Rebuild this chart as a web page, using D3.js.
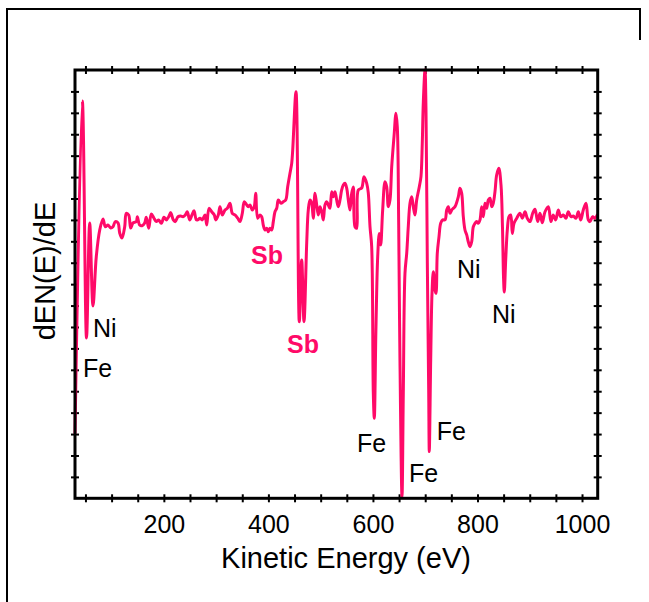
<!DOCTYPE html>
<html>
<head>
<meta charset="utf-8">
<script src="https://cdn.jsdelivr.net/npm/d3@7"></script>
<style>
  html, body { margin: 0; padding: 0; background: #fff; }
  svg { display: block; font-family: "Liberation Sans", Arial, sans-serif; }
</style>
</head>
<body>
<svg id="chart" width="649" height="602"></svg>
<script>
// Auger spectrum: kinetic energy (eV) and derivative signal dEN(E)/dE (arbitrary units)
const energy = [
  30, 44.0, 52.0, 58.1, 64.4, 70.7, 77.3, 83.6,
  88.0, 93.1, 98.3, 102.7, 107.1, 112.3, 115.5, 119.9, 125.1, 128.1, 132.7, 136.6,
  141.0, 147.3, 149.2, 153.8, 158.2, 163.3, 166.4, 171.0, 176.0, 181.1, 185.5, 190.1,
  195.1, 200.3, 204.7, 209.3, 213.1, 218.1, 221.9, 227.0, 232.2, 236.6, 241.0, 244.8,
  249.4, 253.8, 257.7, 262.1, 264.7, 269.1, 273.5, 278.7, 282.0, 286.4, 291.5, 296.5,
  299.2, 304.1, 307.4, 311.8, 317.0, 321.4, 326.5, 330.9, 336.1, 341.3, 345.7, 350.1,
  353.9, 358.5, 361.5, 364.8, 369.2, 373.0, 375.7, 379.5, 383.9, 387.2, 390.2, 393.5,
  396.7, 399.8, 403.1, 406.3, 409.4, 412.6, 415.9, 419.0, 424.1, 428.5, 433.1, 436.9,
  441.3, 444.6, 446.5, 452.8, 459.1, 463.7, 468.1, 473.3, 476.3, 479.6, 482.8, 485.9,
  489.1, 492.4, 495.5, 498.7, 502.0, 505.0, 508.3, 511.5, 514.6, 517.8, 521.1, 524.2,
  527.4, 530.6, 533.7, 537.0, 540.2, 543.3, 546.5, 549.8, 552.9, 556.1, 559.4, 562.4,
  565.7, 568.9, 572.0, 578.5, 582.9, 588.1, 591.1, 594.4, 597.6, 600.7, 602.6, 605.8,
  609.1, 612.1, 614.8, 618.6, 623.1, 626.3, 629.4, 632.6, 635.9, 640.3, 644.1, 646.6,
  649.3, 651.7, 655.6, 658.1, 661.3, 664.6, 667.6, 670.9, 674.1, 677.2, 680.4, 683.7,
  688.7, 691.9, 694.4, 696.3, 699.6, 701.5, 704.0, 706.7, 707.8, 710.5, 713.0, 715.5,
  718.7, 720.6, 723.1, 726.4, 729.6, 733.5, 737.9, 741.1, 744.2, 747.4, 750.7, 753.7,
  757.0, 763.3, 766.5, 769.8, 772.9, 776.1, 779.4, 782.4, 785.7, 788.9, 792.0, 795.2,
  798.5, 801.5, 804.8, 808.0, 811.1, 814.4, 817.6, 820.7, 823.9, 827.2, 830.2, 833.5,
  836.7, 840.8, 845.0, 847.8, 849.8, 851.3, 854.0, 857.1, 860.3, 863.6, 866.6, 869.9,
  875.1, 881.3, 885.8, 890.9, 895.3, 900.5, 905.6, 910.0, 915.2, 919.6, 924.0, 929.2,
  935.5, 940.6, 945.0, 949.6, 954.6, 959.2, 964.2, 969.3, 973.7, 978.9, 983.3, 988.5,
  992.9, 997.5, 1002.4, 1007.6, 1012.0, 1015.2, 1020.4, 1024.8, 1029.2
];
const signal = [
  3.05, 18.55, 7.49, 12.86, 8.98, 11.28, 12.53, 13.04,
  12.68, 12.76, 12.62, 12.68, 12.92, 12.86, 12.39, 12.15, 12.68, 13.31, 13.23, 12.62,
  12.86, 12.92, 13.15, 12.76, 12.73, 12.86, 13.12, 12.61, 13.28, 13.08, 12.92, 13.00,
  12.84, 13.12, 13.00, 13.15, 13.34, 13.00, 12.92, 13.15, 13.18, 13.15, 13.23, 13.38,
  13.00, 13.23, 13.43, 13.00, 13.00, 13.08, 13.00, 13.23, 12.76, 13.54, 13.38, 13.23,
  13.00, 13.23, 13.62, 13.23, 13.46, 13.54, 13.78, 13.31, 13.23, 13.08, 12.92, 13.31,
  13.85, 13.70, 13.62, 13.70, 13.46, 13.62, 14.24, 13.08, 13.23, 13.15, 12.76, 12.53,
  12.61, 12.45, 12.61, 12.53, 12.92, 13.38, 13.54, 13.93, 13.78, 13.85, 13.93, 14.55,
  15.18, 15.64, 16.26, 18.99, 8.25, 11.13, 8.25, 11.92, 13.46, 13.93, 13.79, 13.08,
  14.24, 13.70, 13.23, 13.62, 13.38, 13.00, 13.70, 13.85, 13.70, 13.54, 14.32, 14.08,
  14.32, 13.93, 13.62, 13.93, 14.40, 14.63, 14.71, 14.48, 13.93, 13.46, 14.24, 14.54,
  12.68, 12.61, 14.40, 14.49, 15.02, 14.71, 14.26, 12.68, 11.75, 4.92, 3.74, 8.01,
  11.28, 12.37, 11.83, 13.46, 14.78, 14.55, 13.62, 13.93, 15.48, 16.89, 17.98, 17.35,
  12.68, 6.46, 0.07, 4.92, 10.51, 11.44, 12.68, 13.78, 14.08, 13.62, 13.23, 13.93,
  14.55, 15.02, 16.58, 18.45, 20.00, 18.13, 11.13, 4.92, 2.18, 6.46, 9.57, 10.58,
  9.73, 9.57, 11.44, 12.22, 12.84, 13.00, 13.00, 13.46, 13.62, 13.31, 13.46, 13.54,
  13.62, 14.08, 14.48, 14.24, 13.15, 12.53, 12.30, 11.98, 11.75, 11.98, 12.68, 12.84,
  12.92, 12.84, 13.00, 13.62, 13.15, 13.78, 13.54, 13.93, 14.01, 13.62, 13.78, 14.32,
  15.10, 15.41, 14.63, 12.68, 10.35, 9.63, 11.13, 12.53, 13.15, 13.23, 12.37, 12.84,
  13.08, 13.31, 13.08, 13.38, 13.08, 12.92, 13.31, 13.50, 12.92, 13.31, 12.87, 13.38,
  13.62, 12.92, 13.23, 13.00, 13.46, 13.15, 13.23, 13.08, 13.38, 13.15, 13.18, 13.08,
  13.38, 13.00, 13.46, 13.78, 13.00, 12.92, 13.15, 13.08, 13.23
];

// Axis ticks
const xTicks = d3.range(50, 1001, 50);
const xTickLabels = [200, 400, 600, 800, 1000];
const yTicks = d3.range(1, 20, 1);

// Peak annotations (element, energy in eV, signal level of the text baseline)
const peakNames   = ["Fe", "Ni", "Sb", "Sb", "Fe", "Fe", "Fe", "Ni", "Ni"];
const peakEnergy  = [45.3, 64.4, 366.7, 435.6, 569.5, 669.0, 722.0, 760.8, 827.7];
const peakLevel   = [5.66, 7.52, 10.94, 6.80, 2.18, 0.78, 2.72, 10.27, 8.17];
const peakIsSb    = [false, false, true, true, false, false, false, false, false];

const pink = "#ff0a68";
const plotL = 75, plotR = 597.7, plotT = 70, plotB = 498.3;

const svg = d3.select("#chart");

// Outer frame
svg.append("path")
  .attr("d", "M7,602 L7,9 L640,9 L640,40")
  .attr("fill", "none").attr("stroke", "#000").attr("stroke-width", 2);

const x = d3.scaleLinear().domain([30, 1030]).range([plotL, plotR]);
const y = d3.scaleLinear().domain([0, 20]).range([plotB, plotT]);

// Axes on all four sides, ticks crossing the frame
function styleAxis(g, horizontal) {
  g.select(".domain").remove();
  g.selectAll(".tick line")
    .attr("stroke", "#000").attr("stroke-width", 2)
    .attr(horizontal ? "y1" : "x1", -4).attr(horizontal ? "y2" : "x2", 4);
}
const fmtX = d => xTickLabels.includes(d) ? String(d) : "";

const gBottom = svg.append("g").attr("transform", `translate(0,${plotB})`)
  .call(d3.axisBottom(x).tickValues(xTicks).tickFormat(fmtX).tickSize(4));
styleAxis(gBottom, true);
gBottom.selectAll(".tick text")
  .attr("y", 35).attr("dy", null)
  .attr("font-size", 25).attr("font-family", "Liberation Sans, Arial, sans-serif")
  .attr("fill", "#000");

const gTop = svg.append("g").attr("transform", `translate(0,${plotT})`)
  .call(d3.axisTop(x).tickValues(xTicks).tickFormat("").tickSize(4));
styleAxis(gTop, true);

const gLeft = svg.append("g").attr("transform", `translate(${plotL},0)`)
  .call(d3.axisLeft(y).tickValues(yTicks).tickFormat("").tickSize(4));
styleAxis(gLeft, false);

const gRight = svg.append("g").attr("transform", `translate(${plotR},0)`)
  .call(d3.axisRight(y).tickValues(yTicks).tickFormat("").tickSize(4));
styleAxis(gRight, false);

// Spectrum line
const points = d3.zip(energy, signal);
const line = d3.line()
  .x(d => x(d[0])).y(d => y(d[1]))
  .curve(d3.curveCatmullRom.alpha(0.5));
svg.append("path")
  .datum(points)
  .attr("d", line)
  .attr("fill", "none")
  .attr("stroke", pink)
  .attr("stroke-width", 3)
  .attr("stroke-linejoin", "round")
  .attr("stroke-linecap", "round");

// Plot frame
svg.append("rect")
  .attr("x", plotL).attr("y", plotT)
  .attr("width", plotR - plotL).attr("height", plotB - plotT)
  .attr("fill", "none").attr("stroke", "#000").attr("stroke-width", 3);

// Peak labels
peakNames.forEach((name, i) => {
  svg.append("text")
    .attr("x", x(peakEnergy[i])).attr("y", y(peakLevel[i]))
    .attr("font-size", 25)
    .attr("font-weight", peakIsSb[i] ? "bold" : "normal")
    .attr("fill", peakIsSb[i] ? pink : "#000")
    .text(name);
});

// Axis titles
svg.append("text")
  .attr("x", 346).attr("y", 568)
  .attr("text-anchor", "middle").attr("font-size", 29)
  .text("Kinetic Energy (eV)");

svg.append("text")
  .attr("transform", "translate(55,271) rotate(-90)")
  .attr("text-anchor", "middle").attr("font-size", 29)
  .text("dEN(E)/dE");
</script>
</body>
</html>
